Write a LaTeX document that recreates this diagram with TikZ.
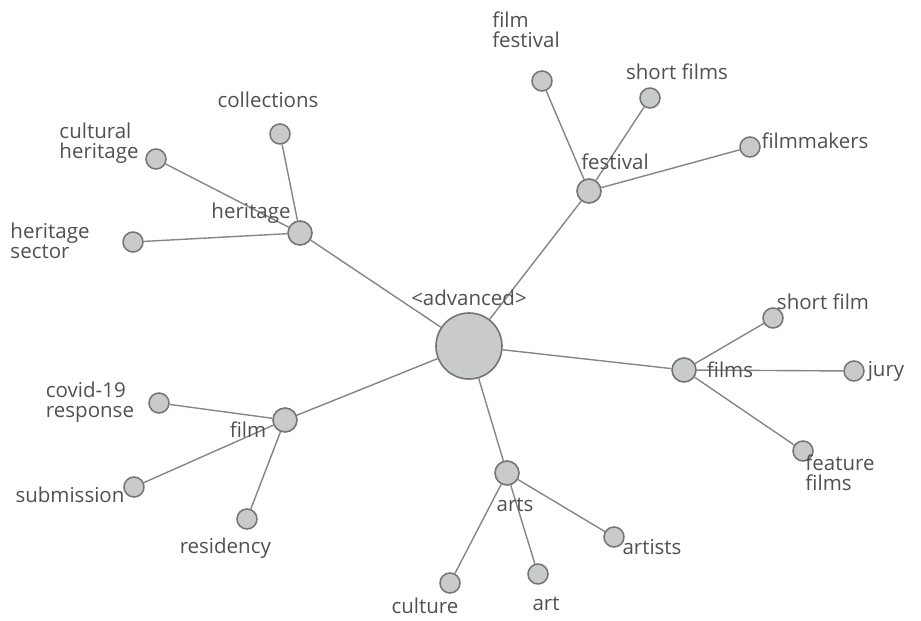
\documentclass[tikz,border=0pt]{standalone}
\usepackage{fontspec}
\setmainfont{Open Sans}
\usepackage{xcolor}
\usetikzlibrary{positioning}
\definecolor{nodefill}{HTML}{C9CACA}
\definecolor{nodeline}{HTML}{747474}
\definecolor{linkline}{HTML}{858585}
\definecolor{labeltext}{HTML}{505050}

\begin{document}
\begin{tikzpicture}[
  x=1pt, y=-1pt,
  hub/.style={circle, draw=nodeline, fill=nodefill, line width=1.6pt, minimum size=66pt, inner sep=0pt},
  mid/.style={circle, draw=nodeline, fill=nodefill, line width=1.6pt, minimum size=24pt, inner sep=0pt},
  leaf/.style={circle, draw=nodeline, fill=nodefill, line width=1.5pt, minimum size=20pt, inner sep=0pt},
  link/.style={draw=linkline, line width=1.4pt},
  word/.style={text=labeltext, font=\fontsize{20.5}{20}\selectfont, align=left, inner sep=0pt}
]
  \useasboundingbox (0,0) rectangle (921,621);
  % centre and its five branches
  \node[hub] (advanced) at (469,346) {};
  \node[mid] (heritage) at (300,233) {};
  \node[mid] (festival) at (589,191) {};
  \node[mid] (films) at (684,370) {};
  \node[mid] (arts) at (507,473) {};
  \node[mid] (film) at (285,420) {};
  % outer words
  \node[leaf] (collections) at (280,134) {};
  \node[leaf] (culturalheritage) at (156,159) {};
  \node[leaf] (heritagesector) at (133,242) {};
  \node[leaf] (filmfestival) at (542,81) {};
  \node[leaf] (shortfilms) at (650,98) {};
  \node[leaf] (filmmakers) at (750,147) {};
  \node[leaf] (shortfilm) at (773,318) {};
  \node[leaf] (jury) at (854,371) {};
  \node[leaf] (featurefilms) at (803,451) {};
  \node[leaf] (artists) at (614,537) {};
  \node[leaf] (art) at (538,574) {};
  \node[leaf] (culture) at (450,583) {};
  \node[leaf] (covid) at (159,403) {};
  \node[leaf] (submission) at (134,487) {};
  \node[leaf] (residency) at (247,519) {};
  % links
  \foreach \a/\b in {advanced/heritage,advanced/festival,advanced/films,advanced/arts,advanced/film,
    heritage/collections,heritage/culturalheritage,heritage/heritagesector,
    festival/filmfestival,festival/shortfilms,festival/filmmakers,
    films/shortfilm,films/jury,films/featurefilms,
    arts/artists,arts/art,arts/culture,
    film/covid,film/submission,film/residency}
    \draw[link] (\a) -- (\b);
  % labels
  \foreach \name/\x/\y/\txt in {
    advanced/469/298/{<advanced>},
    heritage/251/213/heritage, collections/268/100/collections,
    culturalheritage/99/143/{cultural\\heritage}, heritagesector/50/241/{heritage\\sector},
    festival/615/162/festival, filmfestival/526/30/{film\\festival},
    shortfilms/677/72/{short films}, filmmakers/815/141/filmmakers,
    films/730/370/films, shortfilm/823/302/{short film}, jury/886/371/jury,
    featurefilms/840/473/{feature\\films},
    arts/515/505/arts, artists/652/547/artists, art/546/604/art, culture/425/606/culture,
    film/248/430/film, covid/90/402/{covid-19\\response}, submission/70/495/submission,
    residency/228/548/residency
  } {
    \node[word] (\name-word) at (\x,\y) {\txt};
  }
\end{tikzpicture}
\end{document}
